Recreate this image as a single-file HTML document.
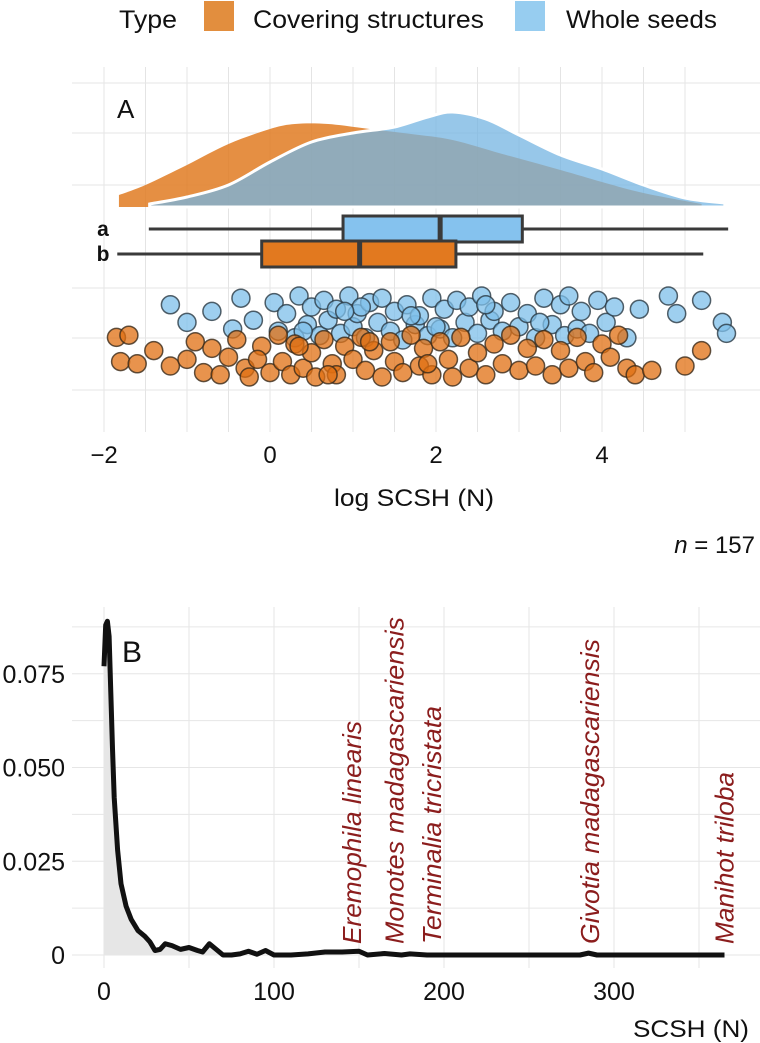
<!DOCTYPE html>
<html><head><meta charset="utf-8"><style>
body{margin:0;background:#fff;width:760px;height:1043px;overflow:hidden;font-family:"Liberation Sans",sans-serif}
svg{display:block}
</style></head><body>
<svg id="chart" width="760" height="1043" xmlns="http://www.w3.org/2000/svg">
<g font-size="25" fill="#111">
<text x="119" y="28" textLength="58" lengthAdjust="spacingAndGlyphs">Type</text>
<rect x="204" y="1" width="30" height="30" fill="#e28e3e"/>
<text x="253" y="28" textLength="231" lengthAdjust="spacingAndGlyphs">Covering structures</text>
<rect x="515" y="1" width="30" height="30" fill="#97cdf0"/>
<text x="566" y="28" textLength="151" lengthAdjust="spacingAndGlyphs">Whole seeds</text>
</g>
<g id="pA"></g>
<g id="pB"></g>
</svg>
<script>
// Panel A data
const aTicks=[-2,0,2,4];
const orangeDensX=[-1.82,-1.5,-1,-0.5,0,0.3,0.7,1.2,1.7,2.2,2.8,3.5,4,4.5,5.2];
const orangeDensY=[12,22,42,63,78,83,83,78,73,67,53,37,25,14,3];
const blueDensX=[-1.45,-1,-0.5,0,0.5,1,1.5,1.9,2.2,2.6,3,3.5,4,4.5,5,5.48];
const blueDensY=[3,10,22,45,65,74,80,90,95,88,72,52,38,22,9,4];
const boxA=[-1.46,0.88,2.05,3.04,5.52];
const boxB=[-1.84,-0.1,1.08,2.24,5.22];
const blueX=[-1.2,-1.0,-0.7,-0.45,-0.35,-0.2,0.05,0.1,0.2,0.3,0.35,0.45,0.5,0.6,0.65,0.7,0.8,0.85,0.95,1.0,1.05,1.15,1.2,1.3,1.35,1.45,1.5,1.6,1.65,1.75,1.8,1.9,1.95,2.05,2.1,2.2,2.25,2.35,2.4,2.5,2.55,2.65,2.7,2.8,2.9,3.0,3.1,3.2,3.3,3.4,3.5,3.55,3.6,3.7,3.75,3.85,3.95,4.05,4.15,4.3,4.45,4.8,4.9,5.2,5.45,5.5,1.1,1.7,2.0,2.6,3.25,0.9,0.4];
const blueJ=[-0.6,0.2,-0.3,0.5,-0.9,0.1,-0.7,0.6,-0.2,0.9,-1,0.3,-0.5,0.8,-0.8,0.1,-0.4,0.7,-1,0.4,-0.2,0.9,-0.7,0.2,-0.9,0.6,-0.3,1,-0.6,0.3,-0.1,0.8,-0.9,0.5,-0.4,0.9,-0.8,0.2,-0.5,0.7,-1,0.1,-0.3,0.6,-0.7,0.4,-0.2,0.9,-0.9,0.3,-0.6,0.8,-1,0.5,-0.3,0.7,-0.8,0.2,-0.5,0.9,-0.4,-1,-0.2,-0.8,0.2,0.7,-0.5,-0.1,0.4,-0.6,0.2,-0.3,0.6];
const orangeX=[-1.85,-1.8,-1.7,-1.6,-1.4,-1.2,-1.0,-0.9,-0.8,-0.7,-0.6,-0.5,-0.4,-0.3,-0.25,-0.1,0,0.1,0.15,0.25,0.3,0.4,0.5,0.55,0.65,0.75,0.8,0.9,1.0,1.1,1.15,1.25,1.35,1.45,1.5,1.6,1.7,1.8,1.85,1.95,2.05,2.15,2.3,2.4,2.5,2.6,2.7,2.8,2.9,3.0,3.1,3.2,3.3,3.4,3.5,3.6,3.7,3.8,3.9,4.0,4.1,4.2,4.3,4.4,4.6,5.0,5.2,-0.15,0.35,0.7,1.2,1.9,2.2];
const orangeJ=[-0.8,0.3,-0.9,0.4,-0.2,0.5,0.2,-0.6,0.8,-0.3,0.9,0.1,-0.7,0.6,1,-0.4,0.8,-0.9,0.3,0.9,-0.5,0.6,-0.1,1,-0.7,0.4,0.9,-0.4,0.2,-0.8,0.7,-0.2,1,-0.6,0.3,0.8,-0.9,0.5,-0.3,0.9,-0.6,0.2,-0.8,0.6,-0.1,0.9,-0.5,0.4,-0.9,0.7,-0.3,0.5,-0.7,0.9,-0.2,0.6,-0.8,0.3,0.8,-0.5,0.1,-0.9,0.6,0.9,0.7,0.5,-0.2,0.2,-0.4,0.9,-0.6,0.4,1];
// Panel B data
const bXTicks=[0,100,200,300];
const bYTicks=[0,0.025,0.05,0.075];
const bYLabels=["0","0.025","0.050","0.075"];
const curveX=[0,1,2,3,4,5,6,8,10,13,16,20,24,27,30,33,36,40,45,50,55,58,62,66,70,75,80,85,90,95,100,110,120,130,140,150,155,165,175,180,190,280,285,290,365];
const curveY=[0.077,0.088,0.089,0.085,0.07,0.055,0.042,0.028,0.019,0.013,0.0095,0.0065,0.005,0.0035,0.0012,0.0015,0.003,0.0025,0.0015,0.002,0.0012,0.0008,0.003,0.0015,0,0,0.0003,0.001,0.0002,0.0012,0,0,0.0003,0.0008,0.0008,0.001,0,0.0004,0,0.0003,0,0,0.0005,0,0];
const speciesNames=["Eremophila linearis","Monotes madagascariensis","Terminalia tricristata","Givotia madagascariensis","Manihot triloba"];
const speciesX=[146,171,193,286,365];
const speciesLen=[223,327,238,305,172];

const NS="http://www.w3.org/2000/svg";
function mk(p,t,a){const e=document.createElementNS(NS,t);for(const k in a)e.setAttribute(k,a[k]);p.appendChild(e);return e;}
// ---- Panel A
const A=document.getElementById('pA');
const ax=v=>270+83*v;
const dBase=207;
for(let v=-2;v<=5;v+=0.5){const g=mk(A,'line',{x1:ax(v),x2:ax(v),y1:67,y2:432,stroke:'#e4e4e4','stroke-width':1});

}
[83,133,185,288,338,390].forEach(y=>{const g=mk(A,'line',{x1:72,x2:760,y1:y,y2:y,stroke:'#e6e6e6','stroke-width':1});

});
function areaPath(xs,ys){
 const P=xs.map((x,i)=>[ax(x),dBase-ys[i]]);
 let d=`M${P[0][0]},${dBase} L${P[0][0]},${P[0][1]}`;
 for(let i=0;i<P.length-1;i++){const p0=P[Math.max(0,i-1)],p1=P[i],p2=P[i+1],p3=P[Math.min(P.length-1,i+2)];
  const c1=[p1[0]+(p2[0]-p0[0])/6,p1[1]+(p2[1]-p0[1])/6],c2=[p2[0]-(p3[0]-p1[0])/6,p2[1]-(p3[1]-p1[1])/6];
  d+=` C${c1[0]},${c1[1]} ${c2[0]},${c2[1]} ${p2[0]},${p2[1]}`;}
 return d+` L${P[P.length-1][0]},${dBase} Z`;}
const od=mk(A,'path',{d:areaPath(orangeDensX,orangeDensY),fill:'#e07b22','fill-opacity':0.85});


const bd=mk(A,'path',{d:areaPath(blueDensX,blueDensY),fill:'#74b4e2','fill-opacity':0.75,stroke:'#fff','stroke-width':3});


function box(s,yc,col,name){
const w=mk(A,'line',{x1:ax(s[0]),x2:ax(s[4]),y1:yc,y2:yc,stroke:'#3a3a3a','stroke-width':3});


const r=mk(A,'rect',{x:ax(s[1]),y:yc-13,width:ax(s[3])-ax(s[1]),height:26,fill:col,stroke:'#3a3a3a','stroke-width':3});


const m=mk(A,'line',{x1:ax(s[2]),x2:ax(s[2]),y1:yc-13,y2:yc+13,stroke:'#3a3a3a','stroke-width':5});

}
box(boxA,229,'#85c2ee','boxplot-whole');
box(boxB,254,'#e2791f','boxplot-covering');
blueX.forEach((x,i)=>{const c=mk(A,'circle',{cx:ax(x),cy:318+blueJ[i]*22,r:9,fill:'#7dbfea','fill-opacity':0.75,stroke:'#2b3a44','stroke-width':1.5,'stroke-opacity':0.8});

});
orangeX.forEach((x,i)=>{const c=mk(A,'circle',{cx:ax(x),cy:355+orangeJ[i]*22,r:9,fill:'#e06f12','fill-opacity':0.75,stroke:'#3a2a1a','stroke-width':1.5,'stroke-opacity':0.8});

});
aTicks.forEach(v=>{const t=mk(A,'text',{x:ax(v),y:463,'text-anchor':'middle','font-size':24,fill:'#111'});t.textContent=v<0?'\u2212'+(-v):String(v);

});
[['A',117,118,26,'normal','panel-a-label'],['a',103,236,21,'bold','group-a-label'],['b',103,261,21,'bold','group-b-label']].forEach(q=>{const t=mk(A,'text',{x:q[1],y:q[2],'font-size':q[3],'font-weight':q[4],'text-anchor':q[0]==='A'?'start':'middle',fill:'#111'});t.textContent=q[0];

});
let t=mk(A,'text',{x:334,y:506,'font-size':24,fill:'#111',textLength:160,lengthAdjust:'spacingAndGlyphs'});t.textContent='log SCSH (N)';


t=mk(A,'text',{x:755,y:553,'text-anchor':'end','font-size':24,fill:'#111'});t.innerHTML='<tspan font-style="italic">n</tspan> = 157';


// ---- Panel B
const B=document.getElementById('pB');
const bxs=v=>104+1.7*v, bys=v=>955-v*3750;
for(let v=0;v<=350;v+=50){const g=mk(B,'line',{x1:bxs(v),x2:bxs(v),y1:607,y2:968,stroke:'#e6e6e6','stroke-width':1});

}
for(let v=0;v<=0.0875;v+=0.0125){const g=mk(B,'line',{x1:72,x2:760,y1:bys(v),y2:bys(v),stroke:'#e6e6e6','stroke-width':1});

}
let fd=`M${bxs(0)},${bys(0)}`;curveX.forEach((x,i)=>{if(x<=70)fd+=` L${bxs(x)},${bys(curveY[i])}`;});fd+=` L${bxs(70)},${bys(0)} Z`;
const fa=mk(B,'path',{d:fd,fill:'#e6e6e6'});


let ld='';curveX.forEach((x,i)=>ld+=(i?' L':'M')+bxs(x)+','+bys(curveY[i]));
const ln=mk(B,'path',{d:ld,fill:'none',stroke:'#111','stroke-width':5,'stroke-linejoin':'round'});


bXTicks.forEach(v=>{const t=mk(B,'text',{x:bxs(v),y:1000,'text-anchor':'middle','font-size':25,fill:'#111'});t.textContent=v;

});
bYTicks.forEach((v,i)=>{const t=mk(B,'text',{x:65,y:bys(v)+9,'text-anchor':'end','font-size':25,fill:'#111'});t.textContent=bYLabels[i];

});
t=mk(B,'text',{x:633,y:1037,'font-size':24,fill:'#111',textLength:116,lengthAdjust:'spacingAndGlyphs'});t.textContent='SCSH (N)';


t=mk(B,'text',{x:122,y:662,'font-size':30,fill:'#111'});t.textContent='B';


speciesNames.forEach((n,i)=>{const x=bxs(speciesX[i])+9,y=944;const s=mk(B,'text',{x:x,y:y,transform:`rotate(-90 ${x} ${y})`,'font-size':26,'font-style':'italic',fill:'#8b1d1d',textLength:speciesLen[i],lengthAdjust:'spacingAndGlyphs'});s.textContent=n;

});
</script>
</body></html>
